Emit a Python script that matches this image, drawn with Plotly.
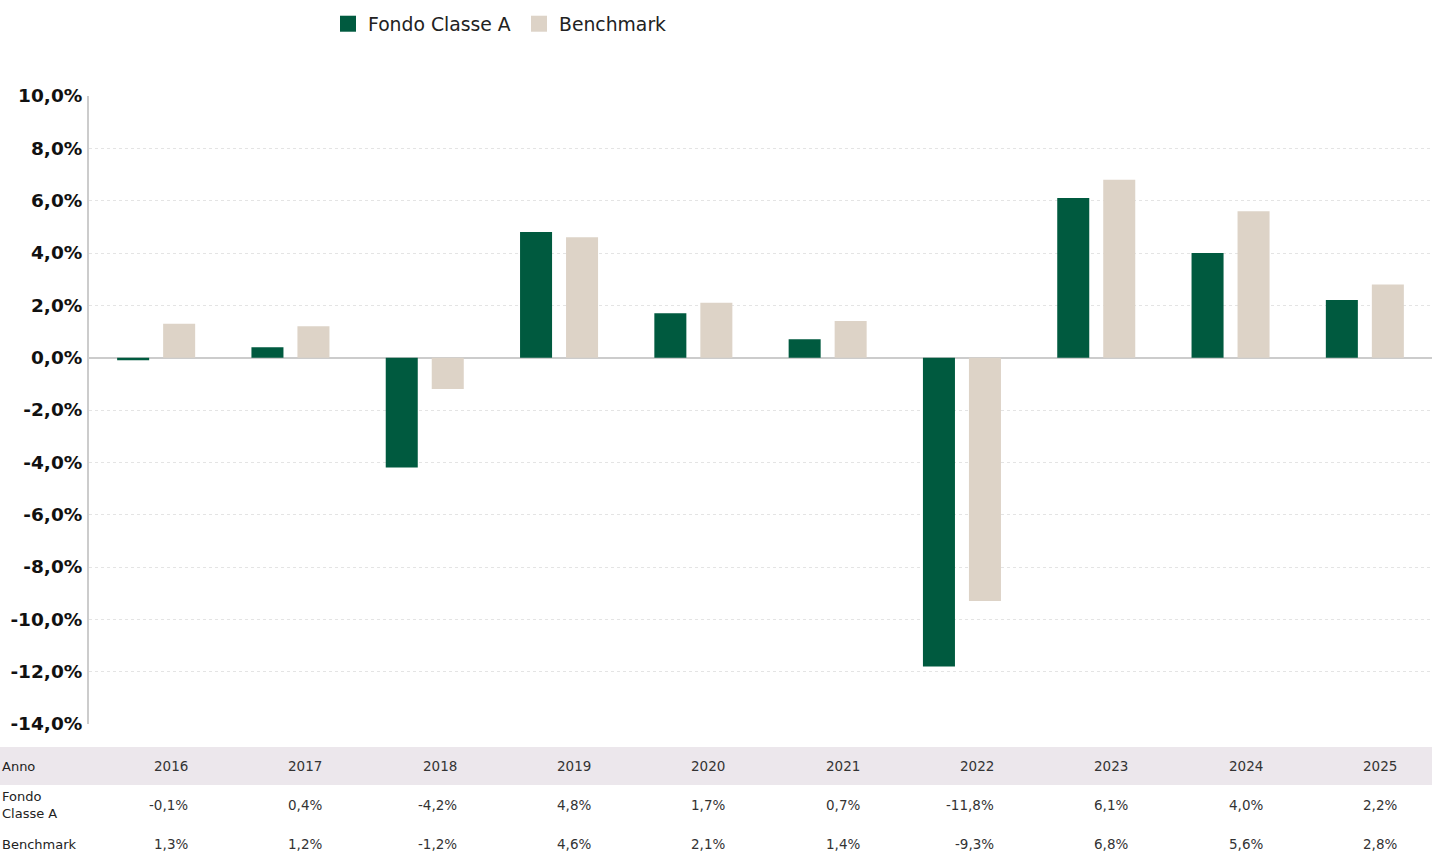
import plotly.graph_objects as go

years = ["2016", "2017", "2018", "2019", "2020", "2021", "2022", "2023", "2024", "2025"]
fondo = [-0.1, 0.4, -4.2, 4.8, 1.7, 0.7, -11.8, 6.1, 4.0, 2.2]
benchmark = [1.3, 1.2, -1.2, 4.6, 2.1, 1.4, -9.3, 6.8, 5.6, 2.8]
series_names = ["Fondo Classe A", "Benchmark"]
row_labels = ["Anno", "Fondo<br>Classe A", "Benchmark"]
y_ticks = [-14, -12, -10, -8, -6, -4, -2, 0, 2, 4, 6, 8, 10]

GREEN = "#005A3F"
BEIGE = "#DDD3C7"
FONT = "DejaVu Sans"

W, H = 1432, 852
ML, MR, MT, MB = 89, 0, 96, 128
PW = W - ML - MR
PH = H - MT - MB


def fmt(v):
    return f"{v:.1f}".replace(".", ",") + "%"


fig = go.Figure()
colors = [GREEN, BEIGE]
for name, vals, c in zip(series_names, [fondo, benchmark], colors):
    fig.add_trace(go.Bar(x=years, y=vals, name=name, marker_color=c,
                         marker_line_width=0, showlegend=False))
# legend proxies with bigger square symbols
for name, c in zip(series_names, colors):
    fig.add_trace(go.Scatter(x=[None], y=[None], mode="markers", name=name,
                             marker=dict(symbol="square", size=16, color=c),
                             showlegend=True))

ann = []
shapes = [dict(type="rect", xref="paper", yref="paper",
               x0=-ML / PW, x1=1, y0=-(785 - (MT + PH)) / PH, y1=-(747 - (MT + PH)) / PH,
               fillcolor="#ECE7EC", line_width=0, layer="below")]
row_y = [766, 805, 844]
for i, lab in enumerate(row_labels):
    ann.append(dict(xref="paper", yref="paper", x=-ML / PW, y=0, xanchor="left",
                    yanchor="middle", yshift=-(row_y[i] - (MT + PH)), xshift=0,
                    text=lab, showarrow=False, align="left",
                    font=dict(family=FONT, size=13, color="#222")))
for j, yr in enumerate(years):
    for i, txt in enumerate([yr, fmt(fondo[j]), fmt(benchmark[j])]):
        ann.append(dict(xref="x", yref="paper", x=j, y=0, xanchor="right",
                        yanchor="middle", xshift=34, yshift=-(row_y[i] - (MT + PH)),
                        text=txt, showarrow=False,
                        font=dict(family=FONT, size=13.5, color="#333")))

fig.update_layout(
    width=W, height=H,
    margin=dict(l=ML, r=MR, t=MT, b=MB, pad=0),
    paper_bgcolor="white", plot_bgcolor="white",
    barmode="group", bargap=0.315, bargroupgap=0.304,
    separators=",.",
    font=dict(family=FONT, color="#111"),
    showlegend=True,
    legend=dict(orientation="h", x=(328 - ML) / PW, xanchor="left",
                y=1 + (MT - 24) / PH, yanchor="middle",
                font=dict(family=FONT, size=18.8, color="#222"),
                traceorder="normal", itemwidth=30,
                entrywidth=146, entrywidthmode="pixels"),
    annotations=ann, shapes=shapes,
    xaxis=dict(type="category", categoryorder="array", categoryarray=years,
               range=[-0.5, len(years) - 0.5],
               showticklabels=False, showgrid=False, zeroline=False, showline=False,
               ticks=""),
    yaxis=dict(range=[-14, 10], tickvals=y_ticks, ticktext=[fmt(v) for v in y_ticks],
               tickfont=dict(family=FONT, size=18.5, color="#111", weight="bold"),
               showgrid=True, gridcolor="#E4E4E4", griddash="dot", gridwidth=1,
               zeroline=True, zerolinecolor="#CCCCCC", zerolinewidth=2,
               showline=True, linecolor="#CCCCCC", linewidth=2, ticks="",
               ticklabelstandoff=1),
)

fig.write_html("out.html", config={"displayModeBar": False},
               post_script="document.body.style.margin='0';document.body.style.padding='0';")
